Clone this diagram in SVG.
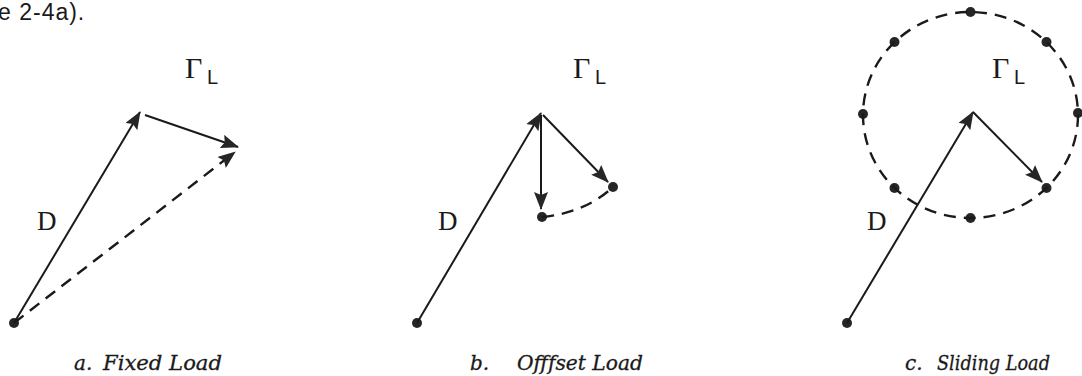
<svg xmlns="http://www.w3.org/2000/svg" width="1082" height="376" viewBox="0 0 1082 376">
<style>
.ln{stroke:#1a1a1a;stroke-width:2;fill:none}
.ds{stroke:#1a1a1a;stroke-width:2.4;fill:none;stroke-dasharray:12 8}
.dot{fill:#262626}
.gam{font-family:"Liberation Serif",serif;font-size:30px;fill:#1a1a1a}
.sub{font-family:"Liberation Sans",sans-serif;font-size:20px;fill:#1a1a1a}
.dl{font-family:"Liberation Serif",serif;font-size:27px;fill:#1a1a1a}
.cap{font-family:"DejaVu Serif",serif;font-style:italic;font-size:20px;fill:#1a1a1a;stroke:#1a1a1a;stroke-width:0.3}
.top{font-family:"Liberation Sans",sans-serif;font-size:23px;fill:#1a1a1a;letter-spacing:1px}
</style>
<defs>
<marker id="ah" markerUnits="userSpaceOnUse" markerWidth="18" markerHeight="14" refX="17" refY="7" orient="auto">
<path d="M0,0 L18,7 L0,14 L3,7 z" fill="#262626"/>
</marker>
</defs>
<rect width="1082" height="376" fill="#fff"/>
<text class="top" x="-2" y="20">e 2-4a).</text>

<g id="panel-a">
<text class="gam" x="185" y="78">Γ</text><text class="sub" x="207" y="84">L</text>
<text class="dl" x="37" y="230">D</text>
<circle class="dot" cx="14" cy="323" r="5"/>
<text class="cap" x="74" y="370">a.</text>
<text class="cap" x="103" y="370" textLength="119" lengthAdjust="spacingAndGlyphs">Fixed Load</text>
</g>

<g id="panel-b">
<text class="gam" x="573" y="78">Γ</text><text class="sub" x="595" y="84">L</text>
<text class="dl" x="438" y="230">D</text>
<circle class="dot" cx="417" cy="323" r="5"/>
<circle class="dot" cx="542" cy="217" r="5"/>
<circle class="dot" cx="613" cy="187" r="5"/>
<text class="cap" x="470" y="370">b.</text>
<text class="cap" x="517" y="370" textLength="126" lengthAdjust="spacingAndGlyphs">Offfset Load</text>
</g>

<g id="panel-c">
<text class="gam" x="992" y="78">Γ</text><text class="sub" x="1014" y="84">L</text>
<text class="dl" x="867" y="230">D</text>
<circle class="dot" cx="847" cy="323" r="5"/>
<circle class="dot" cx="970.5" cy="12" r="5"/>
<circle class="dot" cx="894.5" cy="42" r="5"/>
<circle class="dot" cx="1046.5" cy="42" r="5"/>
<circle class="dot" cx="863" cy="114" r="5"/>
<circle class="dot" cx="1078" cy="113" r="5"/>
<circle class="dot" cx="894.5" cy="188" r="5"/>
<circle class="dot" cx="970.5" cy="218" r="5"/>
<circle class="dot" cx="1046.5" cy="188" r="5"/>
<text class="cap" x="905" y="370">c.</text>
<text class="cap" x="937" y="370" textLength="113" lengthAdjust="spacingAndGlyphs">Sliding Load</text>
</g>

<g id="connectors">
<line class="ln" x1="14" y1="323" x2="140" y2="112" marker-end="url(#ah)"/>
<line class="ln" x1="145" y1="115" x2="238" y2="147" marker-end="url(#ah)"/>
<line class="ds" x1="14" y1="323" x2="235" y2="152" marker-end="url(#ah)"/>

<line class="ln" x1="417" y1="323" x2="541" y2="113" marker-end="url(#ah)"/>
<line class="ln" x1="541" y1="115" x2="541" y2="209" marker-end="url(#ah)"/>
<line class="ln" x1="543" y1="115" x2="608" y2="182" marker-end="url(#ah)"/>
<path class="ds" d="M542,217 Q585,213 613,187"/>

<ellipse class="ds" cx="970.5" cy="115" rx="107.5" ry="103"/>
<line class="ln" x1="847" y1="323" x2="973" y2="112" marker-end="url(#ah)"/>
<line class="ln" x1="973" y1="112" x2="1042" y2="182" marker-end="url(#ah)"/>
</g>
</svg>
